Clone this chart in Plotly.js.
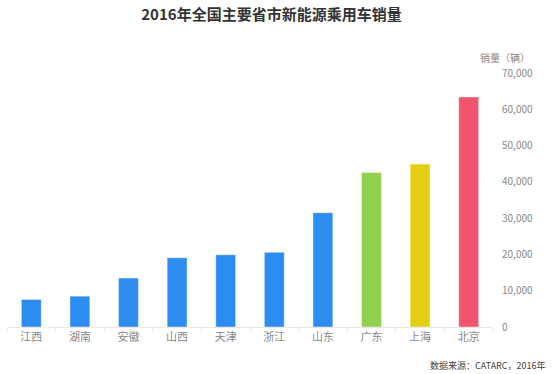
<!DOCTYPE html>
<html>
<head>
<meta charset="utf-8">
<script src="https://cdn.plot.ly/plotly-3.0.1.min.js"></script>
<style>html,body{margin:0;padding:0;background:#fff;}#chart{width:554px;height:374px;}</style>
</head>
<body>
<div id="chart"></div>
<script>
const provinces = ["江西","湖南","安徽","山西","天津","浙江","山东","广东","上海","北京"];
const sales = [7600, 8500, 13500, 19100, 19900, 20600, 31500, 42600, 44900, 63400];
const barColors = ["#2D8CF0","#2D8CF0","#2D8CF0","#2D8CF0","#2D8CF0","#2D8CF0","#2D8CF0","#92D050","#E3CF12","#F2536E"];
const yTicks = [0,10000,20000,30000,40000,50000,60000,70000];
const yTickLabels = ["0","10,000","20,000","30,000","40,000","50,000","60,000","70,000"];

const font = "'Noto Sans CJK SC', 'Noto Sans', sans-serif";
Plotly.newPlot("chart", [{
  type: "bar",
  x: provinces,
  y: sales,
  marker: {color: barColors, line: {color: "rgba(255,255,255,0.45)", width: 1}},
  hoverinfo: "x+y"
}], {
  width: 554, height: 374,
  margin: {l: 7, r: 61, t: 73, b: 47, pad: 0},
  paper_bgcolor: "#fff", plot_bgcolor: "#fff",
  bargap: 0.59,
  showlegend: false,
  font: {family: font, color: "#888"},
  title: {text: "2016年全国主要省市新能源乘用车销量", x: 0.49, xanchor: "center", y: 0.96, yanchor: "middle",
          font: {family: font, size: 15, color: "#333", weight: 600}},
  xaxis: {
    type: "category", showgrid: false, zeroline: false,
    showline: true, linecolor: "#e8e8e8", linewidth: 1,
    ticks: "outside", tickson: "boundaries", ticklen: 4, tickcolor: "#e8e8e8",
    tickfont: {size: 11, color: "#888"}
  },
  yaxis: {
    side: "right", range: [0, 70000], showgrid: false, zeroline: false, showline: false,
    tickvals: yTicks, ticktext: yTickLabels, ticks: "", ticklabelstandoff: 8,
    tickfont: {size: 10, color: "#888"}, fixedrange: true
  },
  annotations: [
    {text: "销量（辆）", xref: "paper", yref: "paper", x: 1.08, y: 1.06, xanchor: "right", yanchor: "middle",
     showarrow: false, font: {family: font, size: 10, color: "#888"}},
    {text: "数据来源：CATARC，2016年", xref: "paper", yref: "paper", x: 1.113, y: -0.15, xanchor: "right", yanchor: "middle",
     showarrow: false, font: {family: font, size: 9, color: "#444"}}
  ]
}, {displayModeBar: false, staticPlot: true});
</script>
</body>
</html>
